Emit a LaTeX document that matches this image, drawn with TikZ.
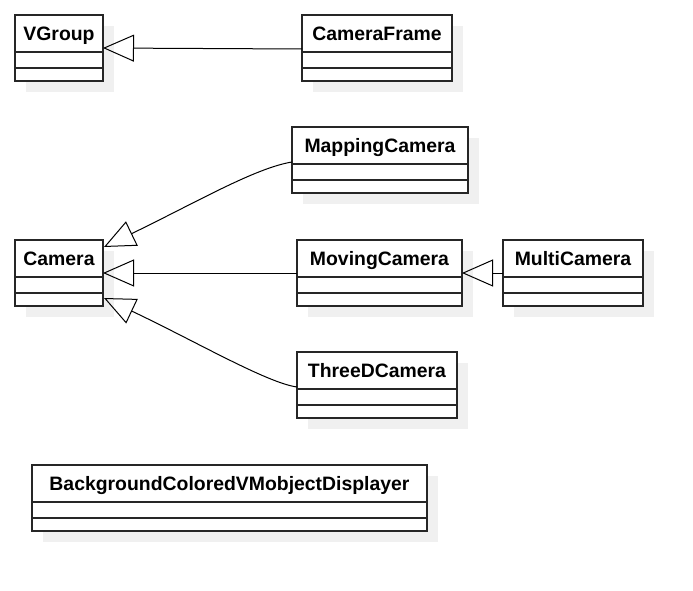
\documentclass[tikz,border=0pt]{standalone}
\usepackage{fontspec}
\setmainfont{Liberation Sans}
\usetikzlibrary{arrows.meta,calc}
\tikzset{
  cls/.style={draw=black!85, line width=1.4pt, fill=white, inner sep=0pt, outer sep=0pt, minimum height=66pt, anchor=north west},
  clsline/.style={draw=black!85, line width=1.4pt},
  lbl/.style={font=\fontsize{19.4}{22}\selectfont\bfseries, inner sep=0pt, anchor=base},
  shadowbox/.style={fill=black!6},
  inh/.style={draw=black, line width=1pt, -{Triangle[open, length=31pt, width=27pt]}}
}
\newcommand{\umlclass}[5]{%
  \fill[shadowbox] (#2+11,#3+11) rectangle ++(#4,66);
  \node[cls, minimum width=#4pt] (#1) at (#2,#3) {};
  \node[lbl] (#1-name) at ($(#1.north)+(0,25.5)$) {#5};
  \draw[clsline] ($(#1.north west)+(0,37)$) -- ($(#1.north east)+(0,37)$);
  \draw[clsline] ($(#1.north west)+(0,53)$) -- ($(#1.north east)+(0,53)$);
}
\begin{document}
\begin{tikzpicture}[x=1pt, y=-1pt]
\useasboundingbox (0,0) rectangle (693,591);
\umlclass{vg}{15}{15}{88}{VGroup}
\umlclass{cf}{302}{15}{150}{CameraFrame}
\umlclass{mc}{292}{127}{176}{MappingCamera}
\umlclass{cam}{15}{240}{88}{Camera}
\umlclass{mvc}{297}{240}{165}{MovingCamera}
\umlclass{mlc}{503}{240}{140}{MultiCamera}
\umlclass{tdc}{297}{352}{160}{ThreeDCamera}
\umlclass{bg}{32}{465}{395}{BackgroundColoredVMobjectDisplayer}

\draw[inh] ($(cf.north west)+(0,34)$) -- ($(vg.north east)+(0,33)$);
\draw[inh] ($(mc.north west)+(0,35)$) .. controls +(-37,6) and +(91,-44) .. ($(cam.north east)+(1,7)$);
\draw[inh] (mvc.west) -- (cam.east);
\draw[inh] ($(tdc.north west)+(0,35)$) .. controls +(-30,-4) and +(89,42) .. ($(cam.north east)+(1,58)$);
\draw[inh] (mlc.west) -- (mvc.east);
\end{tikzpicture}
\end{document}
